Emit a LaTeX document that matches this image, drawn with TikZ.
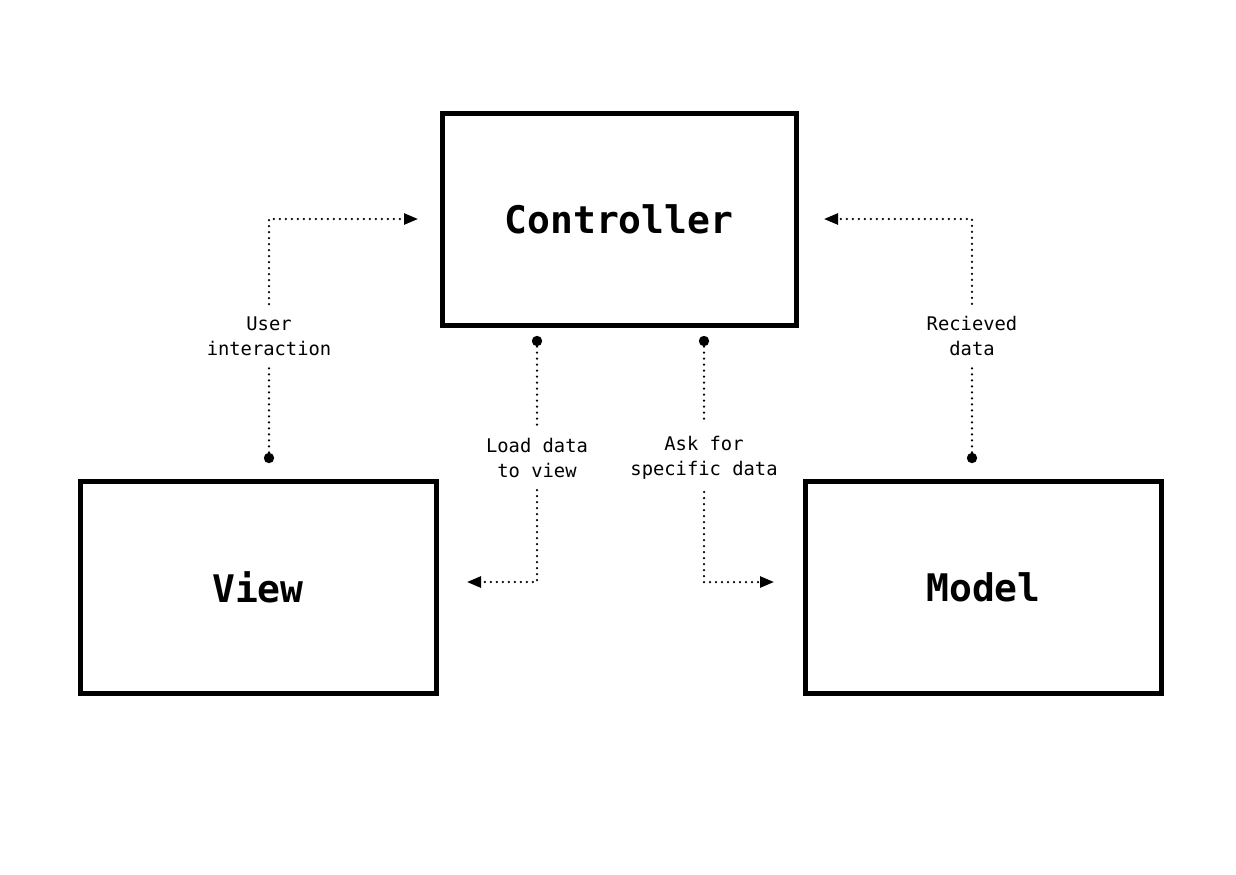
\documentclass[tikz,border=0pt]{standalone}
\usepackage{fontspec}
\setmonofont{DejaVu Sans Mono}
\usetikzlibrary{arrows.meta,positioning}
\tikzset{
  doboz/.style={draw,line width=2.5pt,inner sep=0pt,font=\ttfamily\bfseries\fontsize{19}{22}\selectfont},
  felirat/.style={align=center,inner xsep=5pt,inner ysep=6pt,font=\ttfamily\fontsize{9.4}{12.5}\selectfont},
  pont/.style={circle,fill,inner sep=0pt,minimum size=5.2pt},
  pontoz/.style={line width=1.25pt,line cap=round,dash pattern=on 0pt off 3pt},
  nyil/.style={pontoz,-{Triangle[length=7pt,width=5.5pt]}},
}
\begin{document}
\begin{tikzpicture}[x=0.5pt,y=-0.5pt]
  \useasboundingbox (0,0) rectangle (1236,874);
  % boxes
  \node[doboz,minimum width=177pt,minimum height=106pt] (ctrl) at (619,219) {Controller};
  \node[doboz,minimum width=178pt,minimum height=106pt] (view) at (258,587) {View};
  \node[doboz,minimum width=178pt,minimum height=106pt] (model) at (983.5,587) {Model};
  % user interaction
  \node[pont] (upont) at (269,458) {};
  \node[felirat] (ulab) at (269,336) {User\\interaction};
  \coordinate (uvég) at (418,219);
  \draw[pontoz] (upont) -- (ulab);
  \draw[nyil] (ulab) |- (uvég);
  % recieved data
  \node[pont] (rpont) at (972,458) {};
  \node[felirat] (rlab) at (972,336) {Recieved\\data};
  \coordinate (rvég) at (824,219);
  \draw[pontoz] (rpont) -- (rlab);
  \draw[nyil] (rlab) |- (rvég);
  % load data
  \node[pont] (lpont) at (537,341) {};
  \node[felirat] (llab) at (537,458) {Load data\\to view};
  \coordinate (lvég) at (467,582);
  \draw[pontoz] (lpont) -- (llab);
  \draw[nyil] (llab) |- (lvég);
  % ask for data
  \node[pont] (apont) at (704,341) {};
  \node[felirat] (alab) at (704,458) {Ask for\\specific data};
  \coordinate (avég) at (774,582);
  \draw[pontoz] (apont) -- (alab);
  \draw[nyil] (alab) |- (avég);
\end{tikzpicture}
\end{document}
